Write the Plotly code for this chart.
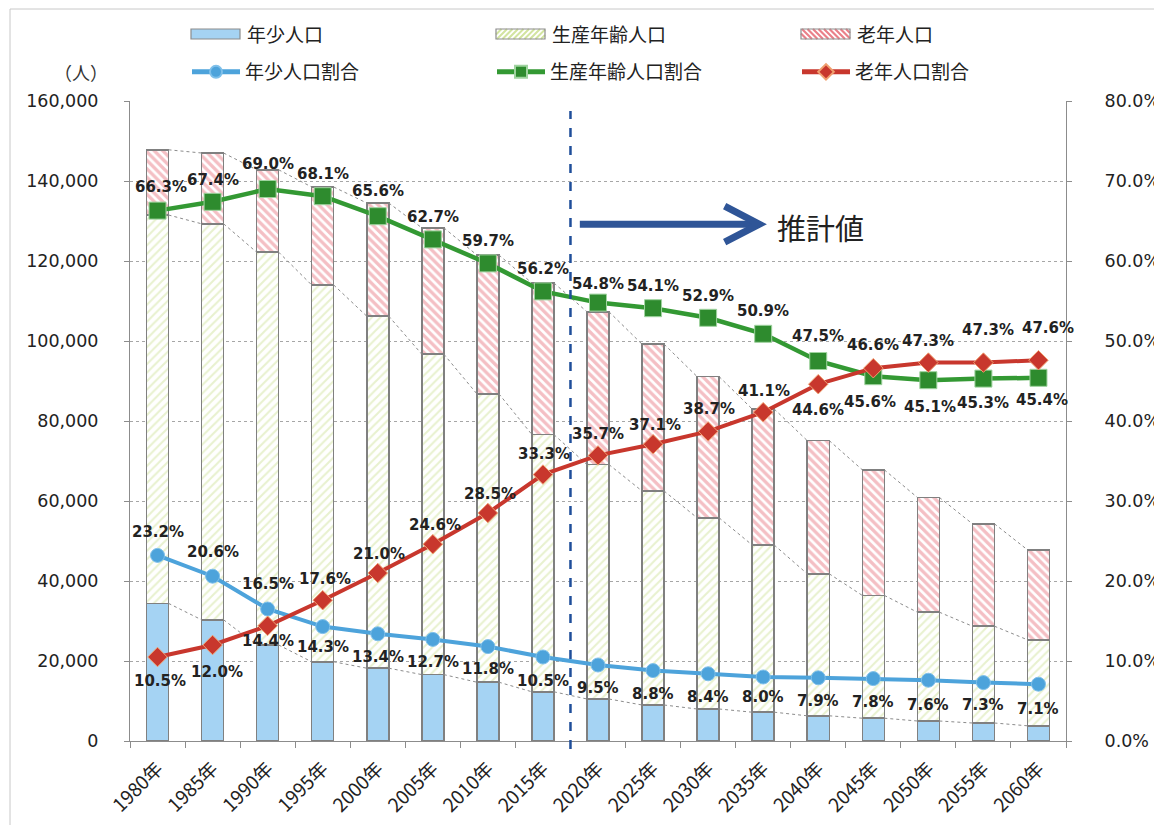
import plotly.graph_objects as go
import numpy as np

# ---------------- data ----------------
years = [1980, 1985, 1990, 1995, 2000, 2005, 2010, 2015, 2020,
         2025, 2030, 2035, 2040, 2045, 2050, 2055, 2060]
year_labels = [f"{y}年" for y in years]

young_pop = [34400, 30300, 24000, 19800, 18200, 16600, 14700, 12300, 10500,
             9000, 8000, 7200, 6300, 5700, 5000, 4500, 3800]
working_pop = [97100, 99000, 98200, 94200, 88000, 80100, 72100, 64300, 58600,
               53500, 47800, 41800, 35500, 30700, 27200, 24200, 21500]
old_pop = [16300, 17700, 20600, 24500, 28300, 31600, 34700, 37900, 38200,
           36700, 35300, 34000, 33300, 31400, 28700, 25600, 22500]

young_ratio = [23.2, 20.6, 16.5, 14.3, 13.4, 12.7, 11.8, 10.5, 9.5,
               8.8, 8.4, 8.0, 7.9, 7.8, 7.6, 7.3, 7.1]
working_ratio = [66.3, 67.4, 69.0, 68.1, 65.6, 62.7, 59.7, 56.2, 54.8,
                 54.1, 52.9, 50.9, 47.5, 45.6, 45.1, 45.3, 45.4]
old_ratio = [10.5, 12.0, 14.4, 17.6, 21.0, 24.6, 28.5, 33.3, 35.7,
             37.1, 38.7, 41.1, 44.6, 46.6, 47.3, 47.3, 47.6]

bar_names = ["年少人口", "生産年齢人口", "老年人口"]
line_names = ["年少人口割合", "生産年齢人口割合", "老年人口割合"]

left_ticks = [0, 20000, 40000, 60000, 80000, 100000, 120000, 140000, 160000]
right_ticks = [0, 10, 20, 30, 40, 50, 60, 70, 80]

# ---------------- label offsets (style) ----------------
young_lbl_dy = [23, 24, 25, -20, -23, -23, -22, -24, -23, -23, -23, -20, -23, -23, -25, -22, -25]
working_lbl_dy = [24, 22, 25, 22, 25, 22, 22, 22, 19, 22, 22, 23, 25, -26, -27, -24, -22]
old_lbl_dy = [-24, -27, -15, 21, 19, 19, 19, 21, 21, 19, 22, 21, -26, 23, 22, 33, 32]
working_lbl_dx = [3, 0, 0, 0, 0, 0, 0, 0, 0, 0, 0, 0, 0, -3, 2, 0, 4]
old_lbl_dx = [2, 4, 0, 2, 1, 2, 2, 1, 0, 2, 1, 1, 0, 0, 0, 5, 10]

xs = np.arange(len(years))

FONT_NUM = "DejaVu Sans"
FONT_JP = "Noto Sans CJK JP"
BAR_LINE = dict(color="#808080", width=1.5)
BAR_W = 0.4
BLUE_FILL = "#A5D3F3"
GREEN_HATCH = "#D2E4A0"
RED_HATCH = "#EA8089"

# page-pixel -> paper helpers (plot area spans px 130..1066, py 101..741 on the page)
PL, PR, PT, PB = 130, 1066, 101, 741
def px(v):
    return (v - PL) / (PR - PL)
def py(v):
    return (PB - v) / (PB - PT)

fig = go.Figure()

# stacked bars
fig.add_trace(go.Bar(
    x=xs, y=young_pop, name=bar_names[0], width=BAR_W, showlegend=False,
    marker=dict(color=BLUE_FILL, line=BAR_LINE)))
fig.add_trace(go.Bar(
    x=xs, y=working_pop, name=bar_names[1], width=BAR_W, showlegend=False,
    marker=dict(color="white", line=BAR_LINE,
                pattern=dict(shape="/", fgcolor=GREEN_HATCH, bgcolor="white",
                             size=6, solidity=0.35))))
fig.add_trace(go.Bar(
    x=xs, y=old_pop, name=bar_names[2], width=BAR_W, showlegend=False,
    marker=dict(color="white", line=BAR_LINE,
                pattern=dict(shape="\\", fgcolor=RED_HATCH, bgcolor="white",
                             size=6, solidity=0.55))))

# series lines between bars (thin dotted)
cum1 = np.array(young_pop)
cum2 = cum1 + np.array(working_pop)
cum3 = cum2 + np.array(old_pop)
for cum in (cum1, cum2, cum3):
    sx, sy = [], []
    for i in range(len(xs) - 1):
        sx += [xs[i] + BAR_W / 2, xs[i + 1] - BAR_W / 2, None]
        sy += [cum[i], cum[i + 1], None]
    fig.add_trace(go.Scatter(x=sx, y=sy, mode="lines", showlegend=False,
                             hoverinfo="skip",
                             line=dict(color="#8C8C8C", width=1, dash="dot")))

# ratio lines
fig.add_trace(go.Scatter(
    x=xs, y=young_ratio, yaxis="y2", name=line_names[0], mode="lines+markers",
    line=dict(color="#4DA3DB", width=4),
    marker=dict(symbol="circle", size=14, color="#4DA3DB",
                line=dict(color="#7FC0EA", width=1)),
    legend="legend2"))
fig.add_trace(go.Scatter(
    x=xs, y=working_ratio, yaxis="y2", name=line_names[1], mode="lines+markers",
    line=dict(color="#339933", width=4.5),
    marker=dict(symbol="square", size=17, color="#2E8B2E",
                line=dict(color="#9FD39F", width=1)),
    legend="legend2"))
fig.add_trace(go.Scatter(
    x=xs, y=old_ratio, yaxis="y2", name=line_names[2], mode="lines+markers",
    line=dict(color="#C8372D", width=4),
    marker=dict(symbol="diamond", size=15, color="#C8372D",
                line=dict(color="#F0A070", width=1)),
    legend="legend2"))

# data labels
annotations = []
for vals, dys, dxs in ((young_ratio, young_lbl_dy, [0] * len(xs)),
                       (working_ratio, working_lbl_dy, working_lbl_dx),
                       (old_ratio, old_lbl_dy, old_lbl_dx)):
    for i, v in enumerate(vals):
        annotations.append(dict(
            x=xs[i], y=v, xref="x", yref="y2", text=f"<b>{v:.1f}%</b>",
            showarrow=False, yshift=dys[i], xshift=dxs[i],
            font=dict(family=FONT_NUM, size=15, color="#222222")))

# unit label and estimate text
annotations.append(dict(x=px(81), y=py(72), xref="paper", yref="paper",
                        text="（人）", showarrow=False, xanchor="center", yanchor="middle",
                        font=dict(family=FONT_JP, size=18, color="#333333")))
annotations.append(dict(x=11.22, y=128600, xref="x", yref="y", text="推計値",
                        showarrow=False, xanchor="left", yanchor="middle",
                        font=dict(family=FONT_JP, size=29, color="#222222")))

shapes = [
    # forecast divider
    dict(type="line", x0=7.5, x1=7.5, xref="x", y0=py(749), y1=py(111), yref="paper",
         line=dict(color="#1F4E9A", width=2.5, dash="dash")),
    # arrow shaft
    dict(type="line", x0=7.67, x1=10.85, xref="x", y0=129200, y1=129200, yref="y",
         line=dict(color="#2F5597", width=7)),
    # arrow head
    dict(type="path", path="M 10.30,133700 L 10.93,129200 L 10.30,124700",
         xref="x", yref="y", line=dict(color="#2F5597", width=7)),
    # chart frame
    dict(type="rect", xref="paper", yref="paper", x0=px(10), x1=px(1200), y0=py(900), y1=py(9),
         line=dict(color="#C8C8C8", width=1), fillcolor="rgba(0,0,0,0)", layer="below"),
]

# ---- first legend row (bar series): swatch + text ----
sw_left = [191, 496, 801]
SW_W, SW_T, SW_B = 49, 29, 39

def hatch_path(x0, direction, step=5.5):
    segs = []
    h = SW_B - SW_T
    k = -h
    while k < SW_W:
        a, b = k, k + h
        t0 = max(0.0, -a / h) if a < 0 else 0.0
        t1 = min(1.0, (SW_W - a) / h) if b > SW_W else 1.0
        xa, xb = x0 + a + t0 * h, x0 + a + t1 * h
        if direction == "/":
            ya, yb = SW_B - t0 * h, SW_B - t1 * h
        else:
            ya, yb = SW_T + t0 * h, SW_T + t1 * h
        segs.append(f"M {px(xa):.5f},{py(ya):.5f} L {px(xb):.5f},{py(yb):.5f}")
        k += step
    return " ".join(segs)

swatch_fills = [BLUE_FILL, "white", "white"]
for j, name in enumerate(bar_names):
    x0 = sw_left[j]
    shapes.append(dict(type="rect", xref="paper", yref="paper",
                       x0=px(x0), x1=px(x0 + SW_W), y0=py(SW_B), y1=py(SW_T),
                       fillcolor=swatch_fills[j], line=dict(width=0)))
    if j == 1:
        shapes.append(dict(type="path", xref="paper", yref="paper",
                           path=hatch_path(x0, "/"), line=dict(color=GREEN_HATCH, width=2)))
    if j == 2:
        shapes.append(dict(type="path", xref="paper", yref="paper",
                           path=hatch_path(x0, "\\"), line=dict(color=RED_HATCH, width=2.2)))
    shapes.append(dict(type="rect", xref="paper", yref="paper",
                       x0=px(x0), x1=px(x0 + SW_W), y0=py(SW_B), y1=py(SW_T),
                       fillcolor="rgba(0,0,0,0)", line=dict(color="#8C8C8C", width=1.2)))
    annotations.append(dict(x=px(x0 + SW_W + 5), y=py(34), xref="paper", yref="paper",
                            text=name, showarrow=False, xanchor="left", yanchor="middle",
                            font=dict(family=FONT_JP, size=19, color="#222222")))

fig.update_layout(
    width=1154, height=817,
    margin=dict(l=122, r=96, t=93, b=84),
    paper_bgcolor="white", plot_bgcolor="white",
    barmode="stack", bargap=0.6,
    annotations=annotations, shapes=shapes,
    xaxis=dict(range=[-0.5, 16.5], tickmode="array", tickvals=xs, ticktext=year_labels,
               tickangle=-45, ticks="", showline=True, linecolor="#8C8C8C", linewidth=1,
               showgrid=False, zeroline=False, automargin=False, ticklabelstandoff=8,
               tickfont=dict(family=FONT_JP, size=19, color="#222222"),
               minor=dict(tickmode="linear", tick0=-0.5, dtick=1, ticks="outside",
                          ticklen=6, tickcolor="#8C8C8C", showgrid=False)),
    yaxis=dict(range=[0, 160000], tickmode="array", tickvals=left_ticks,
               tickformat=",d", ticks="outside", ticklen=5, tickcolor="#8C8C8C",
               ticklabelstandoff=22, automargin=False,
               showline=True, linecolor="#8C8C8C", linewidth=1,
               showgrid=True, gridcolor="#A6A6A6", gridwidth=1, griddash="dot",
               zeroline=False,
               tickfont=dict(family=FONT_NUM, size=17.5, color="#222222")),
    yaxis2=dict(range=[0, 80], overlaying="y", side="right", tickmode="array",
                tickvals=right_ticks, ticktext=[f"{t:.1f}%" for t in right_ticks],
                ticks="outside", ticklen=5, tickcolor="#8C8C8C", ticklabelstandoff=29,
                showline=True, linecolor="#8C8C8C", linewidth=1, automargin=False,
                showgrid=False, zeroline=False,
                tickfont=dict(family=FONT_NUM, size=17.5, color="#222222")),
    legend2=dict(orientation="h", xref="paper", yref="paper",
                 x=px(187), y=py(72), xanchor="left", yanchor="middle",
                 entrywidth=242, entrywidthmode="pixels", itemwidth=48,
                 itemsizing="constant", traceorder="normal",
                 font=dict(family=FONT_JP, size=19, color="#222222"),
                 bgcolor="rgba(0,0,0,0)"),
)

fig.write_html("out.html")
